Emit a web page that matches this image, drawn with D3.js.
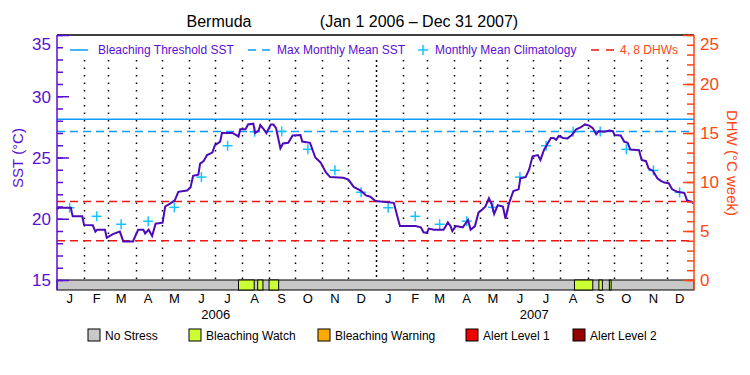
<!DOCTYPE html>
<html>
<head>
<meta charset="utf-8">
<script src="https://cdn.jsdelivr.net/npm/d3@7"></script>
<style>
  body { margin: 0; background: #fff; }
  svg { display: block; font-family: "Liberation Sans", Arial, sans-serif; }
</style>
</head>
<body>
<div id="chart"></div>
<script>
// SST readings (degC)
const sstDates = [
  '2006-01-01','2006-01-03','2006-01-17','2006-01-18','2006-01-19','2006-01-30','2006-02-01','2006-02-11',
  '2006-02-14','2006-02-16','2006-02-25','2006-02-27','2006-03-06','2006-03-14','2006-03-18','2006-03-29',
  '2006-04-04','2006-04-10','2006-04-12','2006-04-16','2006-04-20','2006-04-24','2006-05-02','2006-05-05',
  '2006-05-11','2006-05-16','2006-05-20','2006-05-30','2006-06-03','2006-06-06','2006-06-12','2006-06-14',
  '2006-06-18','2006-06-22','2006-06-28','2006-07-01','2006-07-07','2006-07-09','2006-07-21','2006-07-26',
  '2006-07-28','2006-07-30','2006-08-05','2006-08-08','2006-08-14','2006-08-16','2006-08-20','2006-08-22',
  '2006-08-26','2006-08-29','2006-09-03','2006-09-06','2006-09-09','2006-09-14','2006-09-17','2006-09-23',
  '2006-09-28','2006-10-07','2006-10-09','2006-10-18','2006-10-24','2006-10-30','2006-11-05','2006-11-10',
  '2006-11-25','2006-12-01','2006-12-07','2006-12-15','2006-12-21','2006-12-26','2007-01-01','2007-01-22',
  '2007-01-26','2007-01-29','2007-02-16','2007-02-22','2007-02-25','2007-03-01','2007-03-03','2007-03-09',
  '2007-03-20','2007-03-25','2007-03-28','2007-03-30','2007-04-03','2007-04-11','2007-04-17','2007-04-20',
  '2007-04-25','2007-04-29','2007-05-04','2007-05-07','2007-05-11','2007-05-14','2007-05-17','2007-05-21',
  '2007-05-27','2007-05-30','2007-06-03','2007-06-08','2007-06-14','2007-06-16','2007-06-22','2007-06-26',
  '2007-06-30','2007-07-06','2007-07-09','2007-07-13','2007-07-17','2007-07-21','2007-07-24','2007-07-27',
  '2007-07-30','2007-08-04','2007-08-09','2007-08-14','2007-08-19','2007-08-24','2007-08-29','2007-09-03',
  '2007-09-07','2007-09-11','2007-09-14','2007-09-20','2007-09-26','2007-09-30','2007-10-02','2007-10-09',
  '2007-10-13','2007-10-17','2007-10-20','2007-10-30','2007-11-02','2007-11-07','2007-11-10','2007-11-15',
  '2007-11-20','2007-11-24','2007-11-28','2007-12-03','2007-12-07','2007-12-13','2007-12-21','2007-12-24',
  '2007-12-29','2007-12-31'
];
const sstValues = [
  20.77, 20.9, 20.9, 20.5, 20.2, 20.2, 19.5, 19.47,
  18.95, 19.1, 19.1, 18.45, 18.75, 18.95, 18.15, 18.15,
  19.1, 19.1, 18.8, 19.1, 18.6, 19.6, 19.68, 21.0,
  21.26, 21.5, 22.2, 22.3, 22.55, 23.5, 23.6, 24.5,
  24.7, 25.2, 25.4, 26.0, 26.3, 27.0, 27.0, 26.8,
  26.7, 27.3, 27.3, 27.7, 27.76, 27.0, 27.2, 27.65,
  27.3, 27.0, 27.7, 27.7, 27.4, 25.75, 26.15, 26.2,
  26.8, 26.84, 26.3, 26.2, 25.0, 24.6, 23.8, 23.4,
  23.35, 23.2, 22.6, 22.3, 21.9, 21.8, 21.45, 21.3,
  20.2, 19.4, 19.4, 19.3, 18.9, 18.85, 19.2, 19.1,
  19.1, 19.7, 19.4, 19.0, 19.4, 19.3, 19.9, 19.1,
  19.4, 20.5, 20.8, 21.0, 21.67, 21.2, 20.4, 21.1,
  21.0, 20.0, 21.26, 22.27, 22.4, 23.3, 23.4, 24.0,
  25.1, 25.2, 24.8, 25.6, 26.1, 26.6, 26.6, 26.45,
  26.75, 26.6, 26.56, 26.84, 27.3, 27.45, 27.7, 27.6,
  27.4, 26.9, 27.15, 27.1, 27.2, 27.15, 26.84, 26.8,
  26.3, 26.2, 25.65, 25.6, 24.8, 24.7, 24.1, 23.9,
  23.3, 23.1, 22.95, 22.9, 22.4, 22.2, 22.1, 21.5,
  21.4, 21.26
];

// monthly mean climatology, Jan..Dec
const climatology = [20.9, 20.2, 19.55, 19.8, 20.93, 23.4, 25.96, 27.1, 27.13, 25.67, 23.95, 22.16];
const maxMonthlyMean = 27.13;
const bleachingThreshold = 28.13;
const dhwLevels = [4, 8];

// stress periods: start, end, level (1 = watch)
const stressStart = ['2006-07-28', '2006-08-19', '2006-09-01', '2007-08-17', '2007-09-14', '2007-09-26'];
const stressEnd   = ['2006-08-15', '2006-08-25', '2006-09-12', '2007-09-07', '2007-09-18', '2007-09-28'];
const stressLevel = [1, 1, 1, 1, 1, 1];

const stressNames = ['No Stress', 'Bleaching Watch', 'Bleaching Warning', 'Alert Level 1', 'Alert Level 2'];
const stressColors = ['#c8c8c8', '#ccff33', '#ffaa00', '#ee0000', '#960000'];

const monthLetters = ['J','F','M','A','M','J','J','A','S','O','N','D'];
const years = ['2006', '2007'];
const sstTicks = [15, 20, 25, 30, 35];
const dhwTicks = [0, 5, 10, 15, 20, 25];

const purple = '#5a0fd2';
const lineColor = '#4c0ab8';
const orange = '#ff4614';
const blue = '#0a9bff';
const cyan = '#14c3ff';
const red = '#f01414';

const width = 750, height = 375;
const plotL = 57, plotR = 694, plotT = 35, barTop = 280, plotB = 290;

const parse = d3.utcParse('%Y-%m-%d');
const t0 = new Date(Date.UTC(2006, 0, 1));
const t1 = new Date(Date.UTC(2008, 0, 1));

const x = d3.scaleUtc().domain([t0, t1]).range([plotL, plotR]);
const y = d3.scaleLinear().domain([15, 35]).range([barTop, plotT]);
const yd = d3.scaleLinear().domain([0, 25]).range([barTop, plotT]);

const svg = d3.select('#chart').append('svg')
  .attr('width', width)
  .attr('height', height);

// title
svg.append('text').attr('x', 219).attr('y', 27).attr('text-anchor', 'middle')
  .style('font-size', '16px').text('Bermuda');
svg.append('text').attr('x', 419).attr('y', 27).attr('text-anchor', 'middle')
  .style('font-size', '16px').text('(Jan 1 2006 \u2013 Dec 31 2007)');

// month boundary dotted lines
const months = d3.utcMonth.range(t0, t1);
svg.append('g').selectAll('line')
  .data(months.slice(1))
  .join('line')
  .attr('x1', d => Math.round(x(d)) + 0.5)
  .attr('x2', d => Math.round(x(d)) + 0.5)
  .attr('y1', 60)
  .attr('y2', barTop)
  .attr('stroke', '#000')
  .attr('stroke-width', 1.5)
  .attr('stroke-dasharray', d => d.getUTCMonth() === 0 ? '2,3' : '1.5,6');

// reference lines
svg.append('line')
  .attr('x1', plotL).attr('x2', plotR)
  .attr('y1', y(bleachingThreshold)).attr('y2', y(bleachingThreshold))
  .attr('stroke', blue).attr('stroke-width', 1.5);
svg.append('line')
  .attr('x1', plotL).attr('x2', plotR)
  .attr('y1', y(maxMonthlyMean)).attr('y2', y(maxMonthlyMean))
  .attr('stroke', blue).attr('stroke-width', 1.5)
  .attr('stroke-dasharray', '8,5');
svg.append('g').selectAll('line')
  .data(dhwLevels)
  .join('line')
  .attr('x1', plotL).attr('x2', plotR)
  .attr('y1', d => yd(d)).attr('y2', d => yd(d))
  .attr('stroke', red).attr('stroke-width', 1.5)
  .attr('stroke-dasharray', '8,5');

// climatology crosses at mid-month, both years
const climPts = months.map(m => ({
  date: new Date(m.getTime() + 14.5 * 864e5),
  value: climatology[m.getUTCMonth()]
}));
const cross = svg.append('g').attr('stroke', cyan).attr('stroke-width', 1.5);
climPts.forEach(p => {
  const cx = x(p.date), cy = y(p.value);
  cross.append('line').attr('x1', cx - 5).attr('x2', cx + 5).attr('y1', cy).attr('y2', cy);
  cross.append('line').attr('x1', cx).attr('x2', cx).attr('y1', cy - 5).attr('y2', cy + 5);
});

// SST line
const sst = sstDates.map((d, i) => ({ date: parse(d), value: sstValues[i] }));
svg.append('path')
  .datum(sst)
  .attr('fill', 'none')
  .attr('stroke', lineColor)
  .attr('stroke-width', 2)
  .attr('d', d3.line().x(d => x(d.date)).y(d => y(d.value)));

// stress bar
svg.append('rect')
  .attr('x', plotL).attr('y', barTop)
  .attr('width', plotR - plotL).attr('height', plotB - barTop)
  .attr('fill', stressColors[0]).attr('stroke', '#000');
svg.append('g').selectAll('rect')
  .data(stressStart.map((s, i) => ({ s: parse(s), e: parse(stressEnd[i]), level: stressLevel[i] })))
  .join('rect')
  .attr('x', d => x(d.s))
  .attr('y', barTop)
  .attr('width', d => x(d.e) - x(d.s))
  .attr('height', plotB - barTop)
  .attr('fill', d => stressColors[d.level])
  .attr('stroke', '#000');

// top frame
svg.append('line').attr('x1', plotL).attr('x2', plotR).attr('y1', plotT).attr('y2', plotT)
  .attr('stroke', '#000').attr('stroke-width', 1.5);

// left axis (SST)
const leftAxis = svg.append('g').attr('transform', `translate(${plotL},0)`);
leftAxis.call(d3.axisLeft(y).tickValues(d3.range(15, 36, 1)).tickSizeInner(-6).tickSizeOuter(0).tickFormat(''));
leftAxis.call(g => g.select('.domain').remove());
const leftMajor = svg.append('g').attr('transform', `translate(${plotL},0)`)
  .call(d3.axisLeft(y).tickValues(sstTicks).tickSizeInner(-12).tickSizeOuter(0).tickPadding(6));
leftMajor.select('.domain').attr('d', `M0,${plotT}V${plotB}`);
[leftAxis, leftMajor].forEach(g => {
  g.selectAll('line, path').attr('stroke', purple).attr('stroke-width', 1.5);
});
leftMajor.selectAll('text').attr('fill', purple).style('font-size', '17px')
  .style('font-family', '"Liberation Sans", Arial, sans-serif')
  .attr('dy', d => d === 35 ? '0.85em' : '0.35em');

// right axis (DHW)
const rightAxis = svg.append('g').attr('transform', `translate(${plotR},0)`);
rightAxis.call(d3.axisRight(yd).tickValues(d3.range(0, 26, 1)).tickSizeInner(-7).tickSizeOuter(0).tickFormat(''));
rightAxis.call(g => g.select('.domain').remove());
const rightMajor = svg.append('g').attr('transform', `translate(${plotR},0)`)
  .call(d3.axisRight(yd).tickValues(dhwTicks).tickSizeInner(-11).tickSizeOuter(0).tickPadding(6));
rightMajor.select('.domain').attr('d', `M0,${plotT}V${plotB}`);
[rightAxis, rightMajor].forEach(g => {
  g.selectAll('line, path').attr('stroke', orange).attr('stroke-width', 1.5);
});
rightMajor.selectAll('text').attr('fill', orange).style('font-size', '17px')
  .style('font-family', '"Liberation Sans", Arial, sans-serif')
  .attr('dy', d => d === 25 ? '0.85em' : '0.35em');

// axis titles
svg.append('text')
  .attr('transform', 'translate(23,158) rotate(-90)')
  .attr('text-anchor', 'middle').attr('fill', purple)
  .style('font-size', '15px').text('SST (\u00b0C)');
svg.append('text')
  .attr('transform', 'translate(727,163) rotate(90)')
  .attr('text-anchor', 'middle').attr('fill', orange)
  .style('font-size', '15px').text('DHW (\u00b0C week)');

// month and year labels
svg.append('g').selectAll('text')
  .data(months)
  .join('text')
  .attr('x', d => x(new Date(d.getTime() + 14.5 * 864e5)))
  .attr('y', 303)
  .attr('text-anchor', 'middle')
  .style('font-size', '13px')
  .text(d => monthLetters[d.getUTCMonth()]);
svg.append('g').selectAll('text')
  .data(years)
  .join('text')
  .attr('x', d => x(new Date(Date.UTC(+d, 6, 2))))
  .attr('y', 319)
  .attr('text-anchor', 'middle')
  .style('font-size', '13px')
  .text(d => d);

// legend inside the plot
const ly = 50;
const leg = svg.append('g').style('font-size', '12px');
leg.append('line').attr('x1', 70).attr('x2', 88).attr('y1', ly).attr('y2', ly)
  .attr('stroke', blue).attr('stroke-width', 1.5);
leg.append('text').attr('x', 98).attr('y', ly + 4).attr('fill', purple).text('Bleaching Threshold SST');
leg.append('line').attr('x1', 248).attr('x2', 272).attr('y1', ly).attr('y2', ly)
  .attr('stroke', blue).attr('stroke-width', 1.5).attr('stroke-dasharray', '8,6');
leg.append('text').attr('x', 277).attr('y', ly + 4).attr('fill', purple).text('Max Monthly Mean SST');
leg.append('line').attr('x1', 418).attr('x2', 428).attr('y1', ly).attr('y2', ly)
  .attr('stroke', cyan).attr('stroke-width', 1.5);
leg.append('line').attr('x1', 423).attr('x2', 423).attr('y1', ly - 5).attr('y2', ly + 5)
  .attr('stroke', cyan).attr('stroke-width', 1.5);
leg.append('text').attr('x', 435).attr('y', ly + 4).attr('fill', purple).text('Monthly Mean Climatology');
leg.append('line').attr('x1', 591).attr('x2', 614).attr('y1', ly).attr('y2', ly)
  .attr('stroke', red).attr('stroke-width', 1.5).attr('stroke-dasharray', '8,7');
leg.append('text').attr('x', 620).attr('y', ly + 4).attr('fill', orange).text('4, 8 DHWs');

// stress legend
const legX = [88, 189, 318, 466, 573];
const sl = svg.append('g').style('font-size', '12px');
stressNames.forEach((name, i) => {
  sl.append('rect').attr('x', legX[i]).attr('y', 329).attr('width', 12).attr('height', 12)
    .attr('fill', stressColors[i]).attr('stroke', '#000');
  sl.append('text').attr('x', legX[i] + 17).attr('y', 340).text(name);
});
</script>
</body>
</html>
